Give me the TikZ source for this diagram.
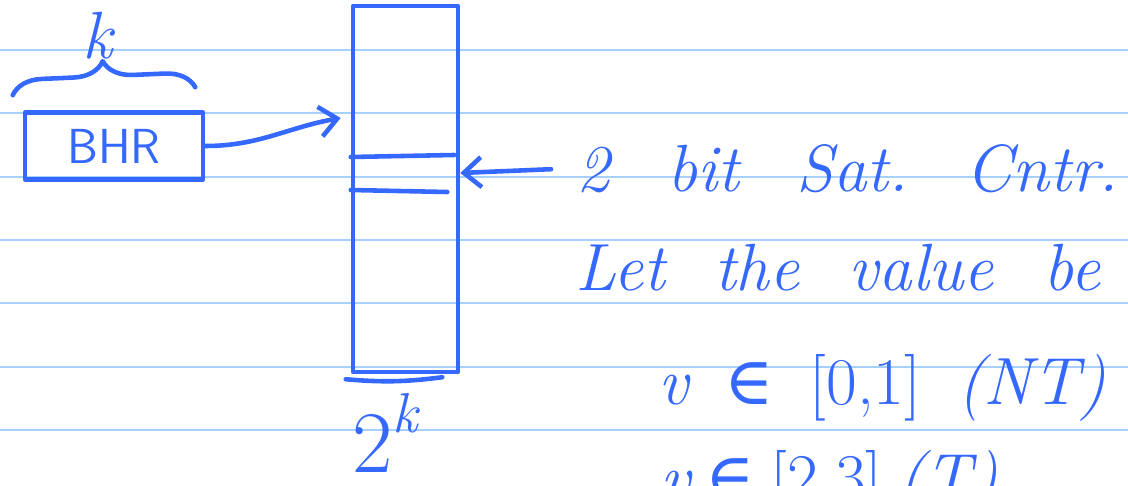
\documentclass[tikz,border=0pt]{standalone}
\usepackage{fontspec}
\newfontfamily\symfont{DejaVu Serif}
\usetikzlibrary{arrows.meta,positioning,calc,decorations.pathreplacing}
\definecolor{nbink}{RGB}{52,104,255}
\definecolor{nbrule}{RGB}{165,208,255}
\frenchspacing

\begin{document}
\begin{tikzpicture}[x=0.02cm, y=-0.02cm,
  font=\fontsize{38}{44}\selectfont\itshape,
  ink/.style={draw=nbink, line width=2.6pt, line cap=round, line join=round},
  arr/.style={ink, -{Straight Barb[length=3.5mm, width=6mm]}},
  hand/.style={text=nbink, inner sep=0pt}
]
\clip (0,0) rectangle (1128,486);
% ruled paper
\foreach \y in {50,113.3,176.7,240,303.3,366.7,430}
  \draw[nbrule, line width=1.3pt] (0,\y) -- (1128,\y);

% history register
\node[ink, text=nbink, minimum width=3.56cm, minimum height=1.34cm,
  font=\fontsize{28}{30}\selectfont\sffamily] (bhr) at (114,146) {BHR};
\draw[ink, decorate, decoration={brace, amplitude=0.6cm}]
  ($(bhr.north west)+(-10,-15)$) -- ($(bhr.north east)+(-10,-23)$);
\node[hand] (k) at (98,36) {k};

% table of counters
\node[ink, minimum width=2.1cm, minimum height=7.32cm] (pht) at (405.5,189) {};
\draw[ink] ($(pht.west)+(0,-32)$) -- ($(pht.east)+(-6,-34)$);
\draw[ink] ($(pht.west)+(0,1)$) -- ($(pht.east)+(-13,3)$);
\draw[ink] ($(pht.south west)+(-5,5)$) to[bend right=6] ($(pht.south east)+(-18,3)$);
\node[hand, anchor=base west, font=\fontsize{50}{54}\selectfont] (size) at (352,472)
  {2\raisebox{0.45em}{\fontsize{32}{32}\selectfont\itshape k}};

\draw[arr] (bhr.east) to[out=0, in=190] ($(pht.west)+(-10,-71)$);

% notes
\node[hand, anchor=base west] (cntr) at (576,192)
  {\makebox[10.85cm][s]{2 bit Sat. Cntr.}};
\node[hand, anchor=base west] (let) at (575,290)
  {\makebox[10.5cm][s]{Let the value be}};
\node[hand, anchor=base west] (nt) at (658,404)
  {\makebox[8.95cm][s]{v {\upshape\symfont ∈} {\upshape[0,1]} (NT)}};
\node[hand, anchor=base west] (tk) at (660,500)
  {\makebox[6.3cm][s]{v {\upshape\symfont ∈} {\upshape[2,3]} (T)}};

\draw[arr] ([xshift=-0.5cm]cntr.west) -- ($(pht.east)+(0,-16)$);
\end{tikzpicture}
\end{document}
